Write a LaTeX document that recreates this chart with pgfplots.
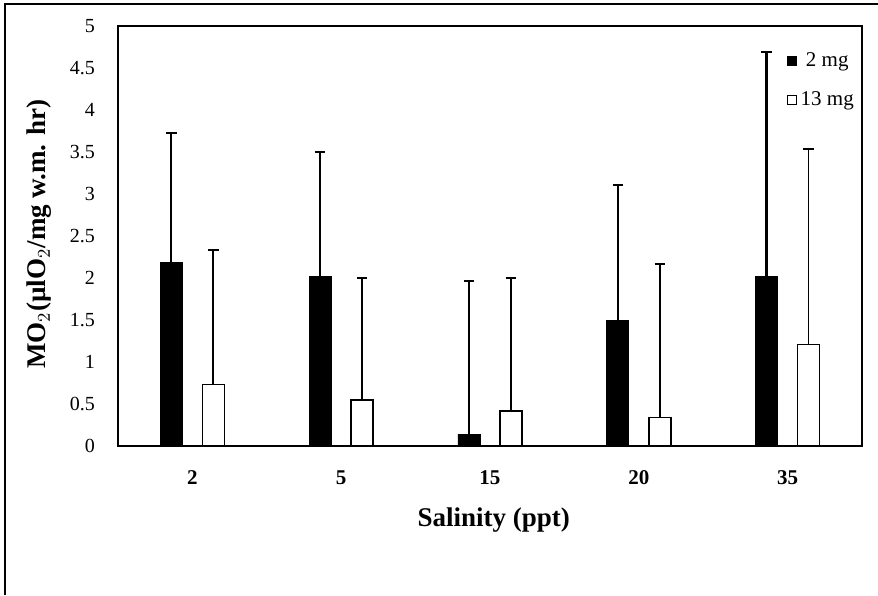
\documentclass[border=0pt]{standalone}
\usepackage{pgfplots}
\pgfplotsset{compat=1.18}
\usepackage{fontspec}
\setmainfont{Liberation Serif}

\begin{document}
\begin{tikzpicture}
    \begin{axis}[
        at={(0,0)}, anchor=south west,
        scale only axis,
        width=372pt, height=210pt,
        ybar=10pt, bar width=11pt,
        xmin=-0.5, xmax=4.5,
        ymin=0, ymax=5,
        xtick=data,
        xticklabels={2,5,15,20,35},
        ytick={0,0.5,...,5},
        tick style={draw=none},
        axis line style={line width=0.75pt},
        /pgf/number format/assume math mode=true,
        yticklabel style={font=\fontsize{10}{12}\selectfont, xshift=-8pt},
        xticklabel style={font=\fontsize{10.5}{12}\selectfont\bfseries, yshift=-4.5pt},
        xlabel={Salinity (ppt)},
        ylabel={MO$_2$(µlO$_2$/mg w.m. hr)},
        label style={font=\fontsize{13.5}{15}\selectfont\bfseries},
        xlabel style={at={(axis description cs:0.505,-0.176)}, anchor=center},
        ylabel style={at={(axis description cs:-0.106,0.505)}, anchor=center},
        legend style={at={(axis description cs:1.003,0.957)}, anchor=north east,
            draw=none, fill=none, row sep=7pt,
            font=\fontsize{10.5}{12}\selectfont,
            /tikz/every even column/.append style={column sep=1pt}},
        legend image code/.code={\draw[#1, draw=black, line width=0.6pt] (0pt,-2.2pt) rectangle (4.4pt,2.2pt);},
        error bars/y dir=plus,
        error bars/y explicit,
    ]
        % 2 mg
        \addplot[fill=black, draw=black,
            error bars/error bar style={line width=1.1pt, black},
            error bars/error mark options={rotate=90, mark size=2.6pt, line width=1.1pt, black}]
            coordinates {
                (0,2.19) +- (0,1.54)
                (1,2.02) +- (0,1.48)
                (2,0.14) +- (0,1.82)
                (3,1.49) +- (0,1.62)
                (4,2.02) +- (0,2.67)
            };
        % 13 mg
        \addplot[fill=white, draw=black, line width=0.8pt,
            error bars/error bar style={line width=0.9pt, black},
            error bars/error mark options={rotate=90, mark size=2.6pt, line width=1.1pt, black}]
            coordinates {
                (0,0.73) +- (0,1.60)
                (1,0.55) +- (0,1.45)
                (2,0.42) +- (0,1.58)
                (3,0.34) +- (0,1.83)
                (4,1.21) +- (0,2.33)
            };
        \legend{2 mg, 13 mg}
    \end{axis}
    % page frame (left and top edge visible in the scan)
    \useasboundingbox (-59pt,-74.5pt) rectangle (380pt,223pt);
    \draw[line width=1pt] (-56.5pt,-74.5pt) -- (-56.5pt,221pt) -- (380pt,221pt);
\end{tikzpicture}
\end{document}
